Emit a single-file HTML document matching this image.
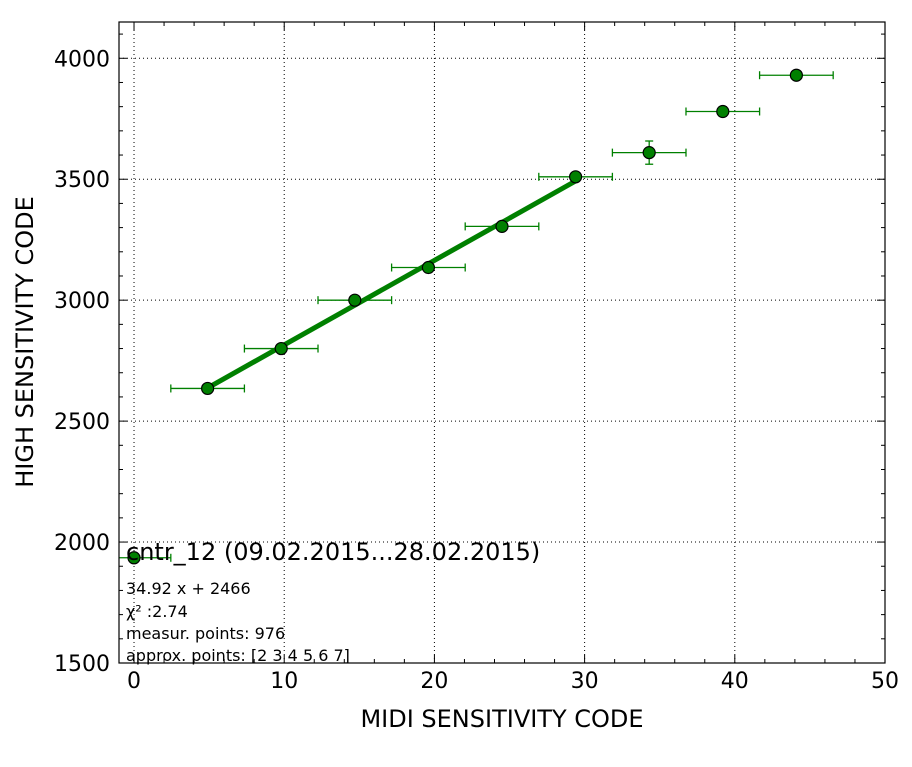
<!DOCTYPE html>
<html><head><meta charset="utf-8"><style>
body{margin:0;background:#fff;font-family:"Liberation Sans","DejaVu Sans",sans-serif}
svg text{font-family:"DejaVu Sans","Liberation Sans",sans-serif}
</style></head><body>
<svg id="c" width="912" height="762" xmlns="http://www.w3.org/2000/svg"></svg>
<script>
const xVals=[0,4.9,9.8,14.7,19.6,24.5,29.4,34.3,39.2,44.1];
const yVals=[1935,2635,2800,3000,3135,3305,3510,3610,3780,3930];
const xErr=[2.45,2.45,2.45,2.45,2.45,2.45,2.45,2.45,2.45,2.45];
const yErr=[8,10,12,10,12,12,10,48,20,10];
const fitSlope=34.92, fitIntercept=2466;
const fitRange=[4.9,29.4];
const xTicks=[0,10,20,30,40,50];
const yTicks=[1500,2000,2500,3000,3500,4000];
const L=119,R=885,T=22,B=663,X0=-1,X1=50,Y0=1500,Y1=4150;
const sx=v=>L+(v-X0)/(X1-X0)*(R-L);
const sy=v=>B-(v-Y0)/(Y1-Y0)*(B-T);
const svg=document.getElementById('c');const NS='http://www.w3.org/2000/svg';
function mk(t,a,p){const e=document.createElementNS(NS,t);for(const k in a)e.setAttribute(k,a[k]);(p||svg).appendChild(e);return e;}
const clip=mk('clipPath',{id:'cp'});mk('rect',{x:L,y:T,width:R-L,height:B-T},clip);
// grid
xTicks.forEach(v=>{const l=mk('line',{x1:sx(v),x2:sx(v),y1:T,y2:B,stroke:'#000','stroke-dasharray':'1,3','stroke-width':1});

});
yTicks.forEach(v=>{const l=mk('line',{x1:L,x2:R,y1:sy(v),y2:sy(v),stroke:'#000','stroke-dasharray':'1,3','stroke-width':1});

});
// ticks
for(let v=0;v<=50;v+=2){const len=(v%10==0)?8:4;
mk('line',{x1:sx(v),x2:sx(v),y1:B,y2:B-len,stroke:'#000'});mk('line',{x1:sx(v),x2:sx(v),y1:T,y2:T+len,stroke:'#000'});}
for(let v=1500;v<=4100;v+=100){const len=(v%500==0)?8:4;
mk('line',{x1:L,x2:L+len,y1:sy(v),y2:sy(v),stroke:'#000'});mk('line',{x1:R,x2:R-len,y1:sy(v),y2:sy(v),stroke:'#000'});}
xTicks.forEach(v=>{const t=mk('text',{x:sx(v),y:688,'font-size':22,'text-anchor':'middle'});t.textContent=v;

});
yTicks.forEach(v=>{const t=mk('text',{x:110,y:sy(v)+8,'font-size':22,'text-anchor':'end'});t.textContent=v;

});
const g=mk('g',{'clip-path':'url(#cp)'});


// fit
const fl=mk('line',{x1:sx(fitRange[0]),y1:sy(fitSlope*fitRange[0]+fitIntercept),x2:sx(fitRange[1]),y2:sy(fitSlope*fitRange[1]+fitIntercept),stroke:'#008000','stroke-width':5},g);


xVals.forEach((x,i)=>{const y=yVals[i],cx=sx(x),cy=sy(y);
const a=sx(x-xErr[i]),b=sx(x+xErr[i]),c=sy(y-yErr[i]),d=sy(y+yErr[i]);
mk('line',{x1:a,x2:b,y1:cy,y2:cy,stroke:'#008000','stroke-width':1.3},g);
mk('line',{x1:a,x2:a,y1:cy-4,y2:cy+4,stroke:'#008000','stroke-width':1.3},g);
mk('line',{x1:b,x2:b,y1:cy-4,y2:cy+4,stroke:'#008000','stroke-width':1.3},g);
mk('line',{x1:cx,x2:cx,y1:c,y2:d,stroke:'#008000','stroke-width':1.3},g);
mk('line',{x1:cx-4,x2:cx+4,y1:c,y2:c,stroke:'#008000','stroke-width':1.3},g);
mk('line',{x1:cx-4,x2:cx+4,y1:d,y2:d,stroke:'#008000','stroke-width':1.3},g);
const p=mk('circle',{cx:cx,cy:cy,r:6,fill:'#008000',stroke:'#000','stroke-width':1.2},g);

});
mk('rect',{x:L,y:T,width:R-L,height:B-T,fill:'none',stroke:'#000','stroke-width':1.2});
function txt(s,x,y,fs,name,extra){const t=mk('text',Object.assign({x:x,y:y,'font-size':fs},extra||{}));t.textContent=s;

return t;}
txt('cntr_12 (09.02.2015...28.02.2015)',126,560,24,'chart-title');
txt('34.92 x + 2466',126,594,16,'fit-equation');
txt('χ² :2.74',126,617,16,'chi-square');
txt('measur. points: 976',126,639,16,'measured-points');
txt('approx. points: [2 3 4 5 6 7]',126,661,16,'approx-points');
txt('MIDI SENSITIVITY CODE',502,727,24,'x-axis-title',{'text-anchor':'middle'});
txt('HIGH SENSITIVITY CODE',33,342,24,'y-axis-title',{'text-anchor':'middle',transform:'rotate(-90 33 342)'});
</script>
</body></html>
